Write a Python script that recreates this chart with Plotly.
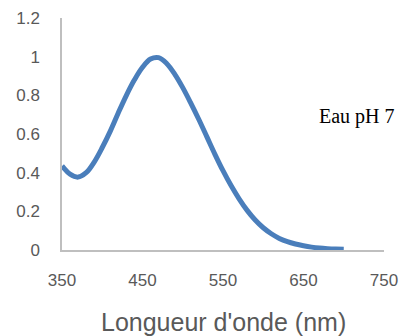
import plotly.graph_objects as go

wavelength = [350, 360, 370, 380, 390, 400, 410, 420, 430, 440, 450, 460, 470, 480, 490,
              500, 510, 520, 530, 540, 550, 560, 570, 580, 590, 600, 610, 620, 630, 640, 650,
              660, 670, 680, 690, 700]
absorbance = [0.435, 0.392, 0.377, 0.40, 0.455, 0.53, 0.615, 0.71, 0.80, 0.88, 0.945, 0.988, 0.995,
              0.965, 0.91, 0.84, 0.76, 0.675, 0.585, 0.495, 0.41, 0.333, 0.265, 0.205, 0.155, 0.115,
              0.084, 0.06, 0.043, 0.031, 0.022, 0.015, 0.01, 0.007, 0.005, 0.004]
x_ticks = [350, 450, 550, 650, 750]
y_ticks = [0, 0.2, 0.4, 0.6, 0.8, 1, 1.2]
y_labels = ["0", "0.2", "0.4", "0.6", "0.8", "1", "1.2"]
x_title = "Longueur d'onde (nm)"
label = "Eau pH 7"

fig = go.Figure()
fig.add_trace(go.Scatter(x=wavelength, y=absorbance, mode="lines",
                         line=dict(color="#4A7EBB", width=5, shape="spline", smoothing=1.0),
                         showlegend=False, hoverinfo="skip"))

font_axis = dict(family="Liberation Sans, Arial, sans-serif", size=17, color="#595959")
fig.update_layout(
    width=408, height=336,
    margin=dict(l=62, r=24, t=18, b=86, autoexpand=False),
    paper_bgcolor="white", plot_bgcolor="white",
    xaxis=dict(range=[350, 750], tickvals=x_ticks, showgrid=False, zeroline=False,
               showline=True, linecolor="#BFBFBF", linewidth=1.5, ticks="",
               tickfont=font_axis, ticklabelstandoff=14, fixedrange=True),
    yaxis=dict(range=[0, 1.2], tickvals=y_ticks, ticktext=y_labels, showgrid=False,
               zeroline=False, showline=True, linecolor="#BFBFBF", linewidth=1.5, ticks="",
               tickfont=font_axis, ticklabelstandoff=17, fixedrange=True),
    annotations=[
        dict(text=label, xref="paper", yref="paper", x=1.04, y=0.69 / 1.2,
             xanchor="right", yanchor="middle", showarrow=False,
             font=dict(family="Liberation Serif, Times New Roman, serif", size=20, color="black")),
        dict(text=x_title, xref="paper", yref="paper", x=0.5, y=-72 / 232,
             xanchor="center", yanchor="middle", showarrow=False,
             font=dict(family="Liberation Sans, Arial, sans-serif", size=25, color="#595959")),
    ],
)
fig.write_html("out.html", config={"displayModeBar": False},
               post_script="document.body.style.margin='0';")
